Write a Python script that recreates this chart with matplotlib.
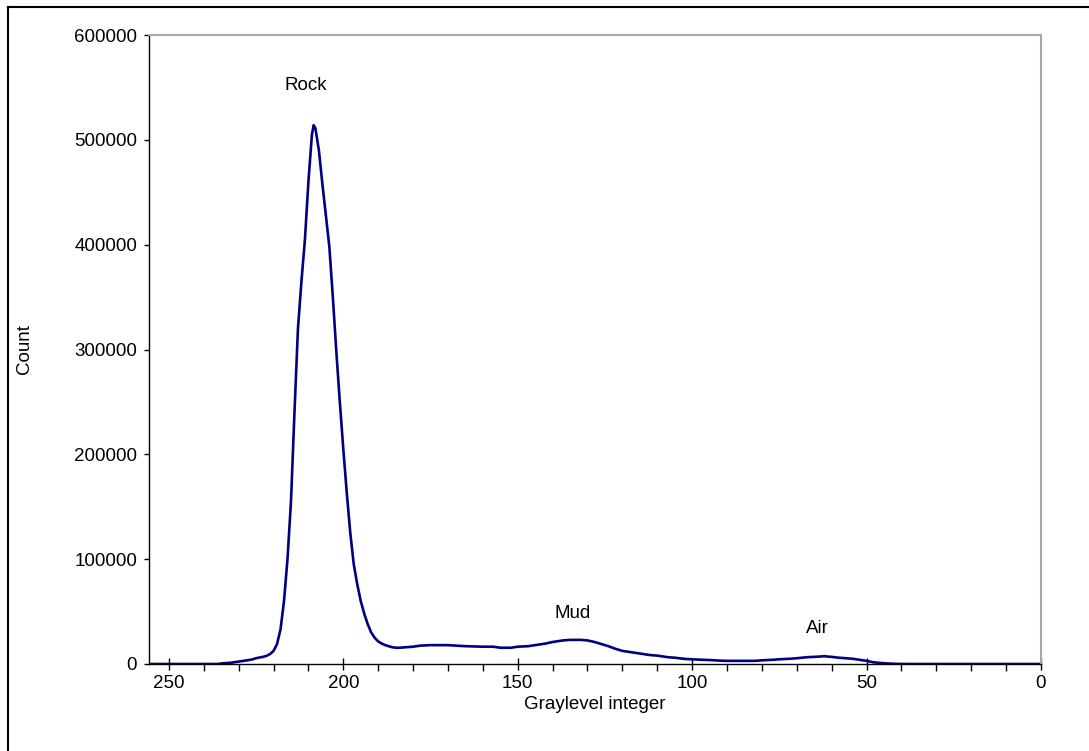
import matplotlib
matplotlib.use("Agg")
import matplotlib.pyplot as plt
from matplotlib.lines import Line2D
from matplotlib.ticker import MultipleLocator, FuncFormatter

plt.rcParams['font.family'] = ['Liberation Sans', 'DejaVu Sans']

graylevel = [255, 240, 236, 235, 234, 233, 232, 231, 230, 229, 228, 227, 226, 225, 224, 223,
             222, 221, 220, 219, 218, 217, 216, 215, 214, 213, 212, 211, 210, 209, 208.5,
             208, 207, 206, 205, 204, 203, 202, 201, 200, 199, 198, 197, 196, 195, 194,
             193, 192, 191, 190, 189, 188, 187, 186, 185, 184, 182, 180, 178, 175, 170,
             165, 160, 157, 155, 152, 150, 147, 145, 142, 140, 137, 135, 132, 130, 128,
             126, 124, 122, 120, 117, 115, 112, 110, 107, 105, 102, 100, 97, 95, 92, 90,
             87, 85, 82, 80, 77, 75, 72, 70, 67, 65, 63, 62, 61, 60, 58, 56, 54, 52, 50,
             48, 46, 44, 42, 40, 20, 0]
count = [0, 0, 0, 500, 800, 1000, 1300, 1800, 2300, 2800, 3300, 3800, 4500, 5500, 6200, 6800,
         7800, 9500, 12500, 19000, 33000, 60000, 100000, 155000, 240000, 320000, 365000, 405000,
         460000, 505000, 514000,
         511000, 490000, 458000, 428000, 398000, 350000, 298000, 250000, 205000, 163000, 125000,
         95000, 76000, 60000, 48000, 38000, 30000, 25000, 21500, 19500, 18000, 17000, 16000,
         15500, 15500, 16000, 16500, 17500, 18000, 18000, 17000, 16500, 16500, 15500, 15500,
         16500, 17000, 18000, 19500, 21000, 22500, 23000, 23000, 22500, 21000,
         19000, 17000, 14500, 12500, 11000, 10000, 8500, 8000, 6500, 6000, 4800, 4500, 4000,
         3800, 3200, 3000, 3000, 3000, 3000, 3500, 4000, 4500, 5000, 5500, 6500, 6800, 7200,
         7500, 7000, 6800, 6000, 5500, 5000, 4000, 3000, 1600, 1000, 500, 200, 0, 0, 0]

peak_labels = ["Rock", "Mud", "Air"]
peak_x = [210.7, 134.2, 64.0]
peak_y = [552000, 48600, 33400]

FS = 13.5

fig = plt.figure(figsize=(10.89, 7.51), dpi=100)
ax = fig.add_axes([149/1089, 1 - 664/751, (1041-149)/1089, (664-35)/751])

ax.plot(graylevel, count, color='#000080', lw=1.9, solid_joinstyle='round')

ax.set_xlim(255.7, 0)
ax.set_ylim(0, 600000)
ax.xaxis.set_major_locator(MultipleLocator(50))
ax.xaxis.set_minor_locator(MultipleLocator(10))
ax.yaxis.set_major_locator(MultipleLocator(100000))
ax.tick_params(axis='x', which='major', direction='inout', length=8, width=1,
               labelsize=FS, pad=4, colors='black')
ax.tick_params(axis='x', which='minor', direction='out', length=5, width=1, colors='black')
ax.tick_params(axis='y', which='major', direction='out', length=3.6, width=1,
               labelsize=FS, pad=5)
ax.yaxis.set_major_formatter(FuncFormatter(lambda v, p: f"{int(v)}"))

for s in ['left', 'bottom']:
    ax.spines[s].set_color('black')
    ax.spines[s].set_linewidth(1.0)
for s in ['top', 'right']:
    ax.spines[s].set_color('#a8a8a8')
    ax.spines[s].set_linewidth(1.5)

ax.set_xlabel("Graylevel integer", fontsize=FS, labelpad=3)
ax.set_ylabel("Count", fontsize=FS)
ax.yaxis.set_label_coords((33 - 149) / (1041 - 149), 0.5)

for lbl, x, y in zip(peak_labels, peak_x, peak_y):
    ax.text(x, y, lbl, fontsize=FS, ha='center', va='center')

# figure border (left and top visible)
fig.add_artist(Line2D([8/1089, 8/1089], [0, 1 - 7/751], transform=fig.transFigure,
                      color='black', lw=1.5))
fig.add_artist(Line2D([8/1089, 1], [1 - 7/751, 1 - 7/751], transform=fig.transFigure,
                      color='black', lw=1.5))

fig.savefig("out.png", dpi=100)
